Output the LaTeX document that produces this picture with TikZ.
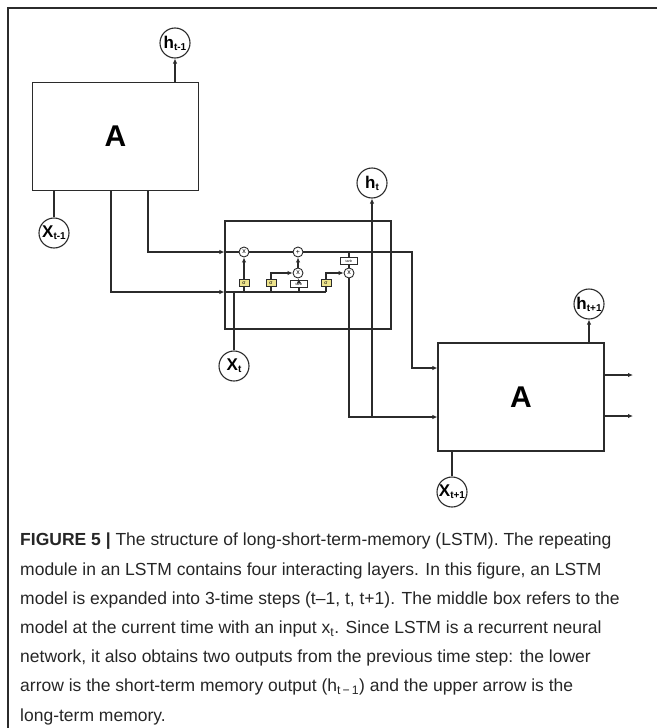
\documentclass[tikz,border=0pt]{standalone}
\usepackage{fontspec}
\setmainfont{Liberation Sans}
\usepackage{tikz}
\usetikzlibrary{arrows.meta,positioning}
\definecolor{InkGray}{HTML}{2B2B2B}
\definecolor{GateYellow}{HTML}{EDE38C}
\definecolor{CaptionInk}{HTML}{262626}
\newcommand{\subidx}[1]{\raisebox{-2pt}{\fontsize{10}{10}\selectfont #1}}

\begin{document}
\begin{tikzpicture}[x=1pt, y=-1pt,
  wire/.style={draw=InkGray, line width=1.1pt},
  arrow/.style={wire, -{Latex[length=5pt, width=4.5pt]}},
  cellbox/.style={draw=InkGray, line width=1.2pt, minimum width=166pt, minimum height=108pt,
               inner sep=0pt, font=\fontsize{30}{32}\selectfont\bfseries},
  state/.style={circle, draw=InkGray, line width=1.1pt, minimum size=30pt, inner sep=0pt,
               font=\fontsize{17}{17}\selectfont\bfseries},
  op/.style={circle, draw=InkGray, line width=0.9pt, minimum size=10pt, inner sep=0pt,
               font=\fontsize{7}{7}\selectfont},
  gate/.style={draw=InkGray, line width=0.8pt, fill=GateYellow, minimum width=10pt,
               minimum height=7pt, inner sep=0pt, font=\fontsize{5}{5}\selectfont},
  squash/.style={gate, fill=white, minimum width=17pt, font=\fontsize{3.5}{4}\selectfont}
]
\useasboundingbox (0,0) rectangle (657,728);
\draw[InkGray, line width=1.6pt] (657,8) -- (8,8) -- (8,728);

\node[cellbox] (prev) at (115.5,136.5) {A};
\node[cellbox] (cell) at (308,275) {};
\node[cellbox] (next) at (521,397) {A};

\node[state] (hprev) at (175,43) {h\subidx{t-1}};
\node[state] (xprev) at (54,233) {X\subidx{t-1}};
\node[state] (xcur) at (234,366) {X\subidx{t}};
\node[state] (hcur) at (372,183) {h\subidx{t}};
\node[state] (hnext) at (589,304) {h\subidx{t+1}};
\node[state] (xnext) at (452,492) {X\subidx{t+1}};

\node[op] (mulf) at (244,252) {x};
\node[op] (addc) at (298,252) {+};
\node[op] (muli) at (298,273) {x};
\node[op] (mulo) at (349,273) {x};
\node[squash] (tanhc) at (349,261) {tanh};
\node[gate] (sgf) at (244,283) {σ};
\node[gate] (sgi) at (271,283) {σ};
\node[squash] (tgc) at (299,284) {tanh};
\node[gate] (sgo) at (326,283) {σ};

\coordinate (busend) at (326,292);
\coordinate (busin) at (cell.west |- busend);
\coordinate (cin) at (cell.west |- mulf);
\coordinate (cbend) at (412,252);
\coordinate (cnext) at (next.west |- 0,368);
\coordinate (hnextin) at (next.west |- 0,417);
\coordinate (outc) at (633,375);
\coordinate (outh) at (633,416);

\draw[arrow] (prev.north -| hprev) -- (hprev);
\draw[wire] (xprev) -- (xprev |- prev.south);
\draw[arrow] ([xshift=32.5pt]prev.south) |- (cin);
\draw[wire] (cin) -- (mulf);
\draw[arrow] ([xshift=-4.5pt]prev.south) |- (busin);
\draw[wire] (busin) -- (busend);
\draw[wire] (xcur) -- (xcur |- busend);
\foreach \g in {sgf,sgi,tgc,sgo}
  \draw[wire] (\g.south |- busend) -- (\g.south);
\draw[arrow] (sgf) -- (mulf);
\draw[arrow] (sgi.north) |- (muli);
\draw[arrow] (tgc) -- (muli);
\draw[arrow] (muli) -- (addc);
\draw[arrow] (sgo.north) |- (mulo);
\draw[wire] (mulf) -- (addc);
\draw[wire] (tanhc.north |- addc) -- (tanhc);
\draw[wire] (tanhc) -- (mulo);
\draw[arrow] (addc) -- (cbend) |- (cnext);
\draw[arrow] (mulo) |- (hnextin);
\draw[arrow] (hcur |- hnextin) -- (hcur);
\draw[arrow] (next.north -| hnext) -- (hnext);
\draw[wire] (xnext) -- (xnext |- next.south);
\draw[arrow] (next.east |- outc) -- (outc);
\draw[arrow] (next.east |- outh) -- (outh);

\node[anchor=north west, align=left, inner sep=0pt, text=CaptionInk,
      font=\fontsize{17.5}{29.2}\selectfont] (caption) at (20,533)
  {\textbf{FIGURE 5 |} The structure of long-short-term-memory (LSTM). The repeating\\
   module in an LSTM contains four interacting layers. In this figure, an LSTM\\
   model is expanded into 3-time steps (t–1, t, t+1). The middle box refers to the\\
   model at the current time with an input x\textsubscript{t}. Since LSTM is a recurrent neural\\
   network, it also obtains two outputs from the previous time step: the lower\\
   arrow is the short-term memory output (h\textsubscript{t\,−\,1}) and the upper arrow is the\\
   long-term memory.};
\end{tikzpicture}
\end{document}
